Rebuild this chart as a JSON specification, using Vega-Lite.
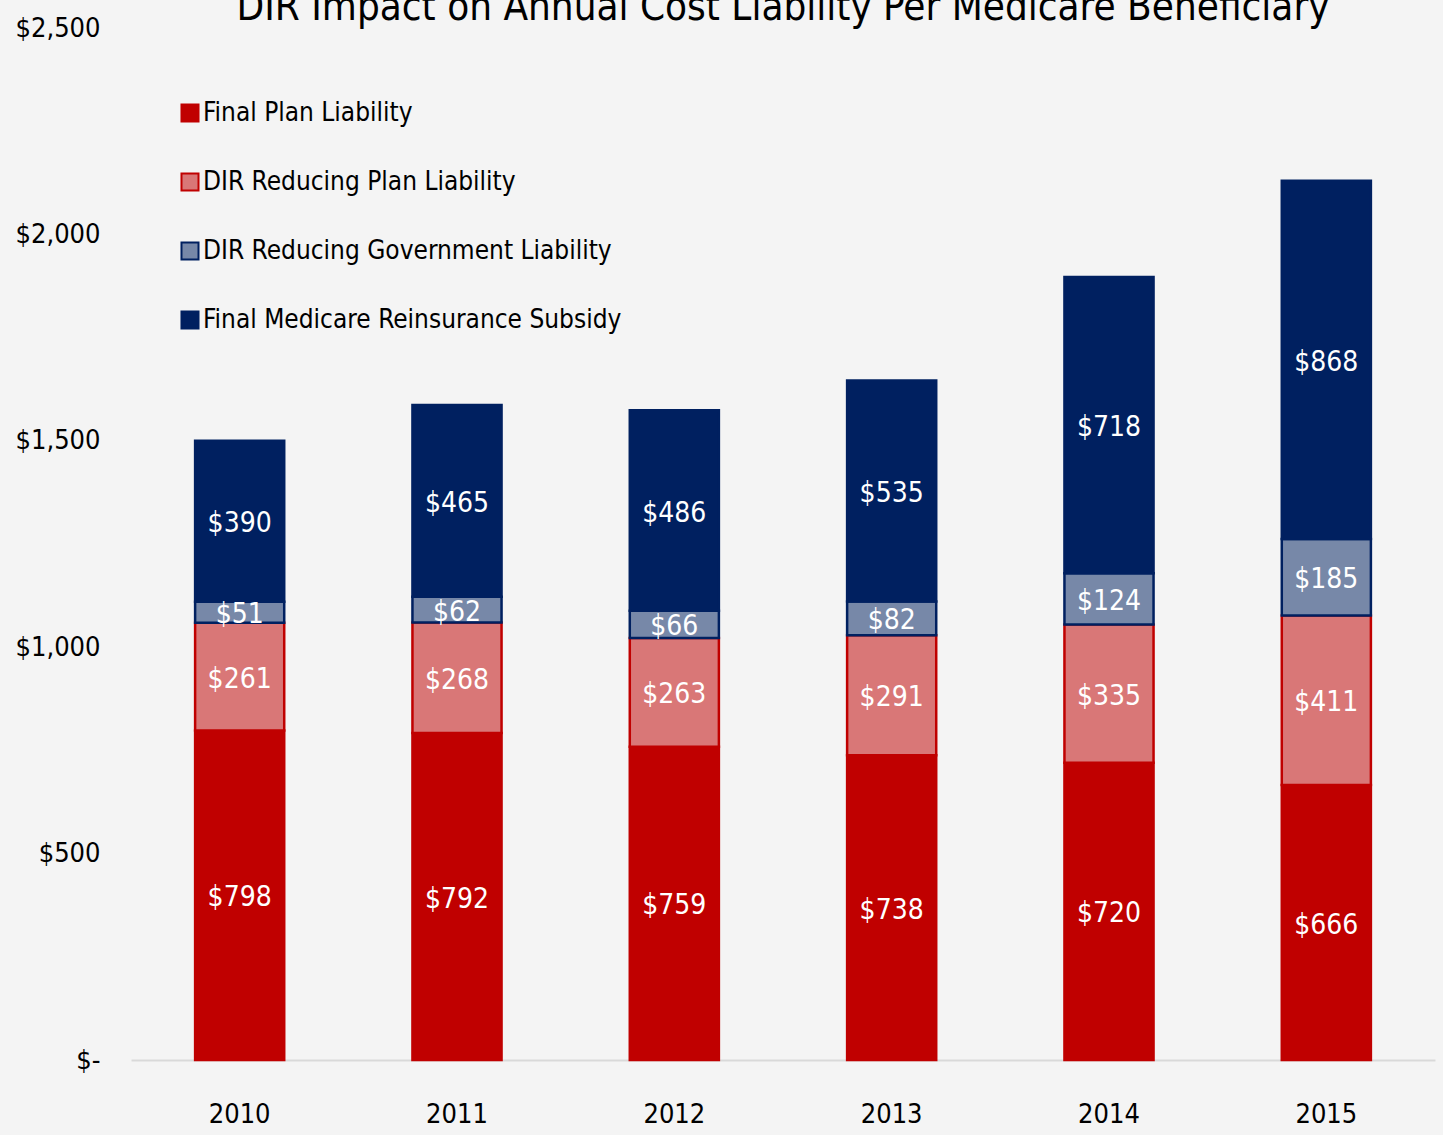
{
  "$schema": "https://vega.github.io/schema/vega-lite/v6.json",
  "autosize": {"type": "none"},
  "padding": {"left": 131, "top": 28, "right": 8, "bottom": 75},
  "width": 1304,
  "height": 1032,
  "background": "#f4f4f4",
  "title": {
    "text": "DIR Impact on Annual Cost Liability Per Medicare Beneficiary",
    "fontSize": 40,
    "font": "DejaVu Sans Condensed, sans-serif",
    "fontWeight": "normal",
    "color": "#000000",
    "anchor": "middle",
    "frame": "group",
    "baseline": "alphabetic",
    "offset": 0,
    "dy": 46
  },
  "config": {
    "view": {"stroke": null},
    "font": "DejaVu Sans Condensed, sans-serif"
  },
  "data": {
    "values": [
      {"year": "2010", "series": "Final Plan Liability", "rank": 1, "value": 798},
      {"year": "2010", "series": "DIR Reducing Plan Liability", "rank": 2, "value": 261},
      {"year": "2010", "series": "DIR Reducing Government Liability", "rank": 3, "value": 51},
      {"year": "2010", "series": "Final Medicare Reinsurance Subsidy", "rank": 4, "value": 390},
      {"year": "2011", "series": "Final Plan Liability", "rank": 1, "value": 792},
      {"year": "2011", "series": "DIR Reducing Plan Liability", "rank": 2, "value": 268},
      {"year": "2011", "series": "DIR Reducing Government Liability", "rank": 3, "value": 62},
      {"year": "2011", "series": "Final Medicare Reinsurance Subsidy", "rank": 4, "value": 465},
      {"year": "2012", "series": "Final Plan Liability", "rank": 1, "value": 759},
      {"year": "2012", "series": "DIR Reducing Plan Liability", "rank": 2, "value": 263},
      {"year": "2012", "series": "DIR Reducing Government Liability", "rank": 3, "value": 66},
      {"year": "2012", "series": "Final Medicare Reinsurance Subsidy", "rank": 4, "value": 486},
      {"year": "2013", "series": "Final Plan Liability", "rank": 1, "value": 738},
      {"year": "2013", "series": "DIR Reducing Plan Liability", "rank": 2, "value": 291},
      {"year": "2013", "series": "DIR Reducing Government Liability", "rank": 3, "value": 82},
      {"year": "2013", "series": "Final Medicare Reinsurance Subsidy", "rank": 4, "value": 535},
      {"year": "2014", "series": "Final Plan Liability", "rank": 1, "value": 720},
      {"year": "2014", "series": "DIR Reducing Plan Liability", "rank": 2, "value": 335},
      {"year": "2014", "series": "DIR Reducing Government Liability", "rank": 3, "value": 124},
      {"year": "2014", "series": "Final Medicare Reinsurance Subsidy", "rank": 4, "value": 718},
      {"year": "2015", "series": "Final Plan Liability", "rank": 1, "value": 666},
      {"year": "2015", "series": "DIR Reducing Plan Liability", "rank": 2, "value": 411},
      {"year": "2015", "series": "DIR Reducing Government Liability", "rank": 3, "value": 185},
      {"year": "2015", "series": "Final Medicare Reinsurance Subsidy", "rank": 4, "value": 868}
    ]
  },
  "encoding": {
    "x": {
      "field": "year",
      "type": "nominal",
      "scale": {"paddingInner": 0.59, "paddingOuter": 0.295},
      "axis": {
        "title": null,
        "labelAngle": 0,
        "labelFontSize": 27,
        "labelColor": "#000000",
        "labelPadding": 41,
        "labelBaseline": "top",
        "ticks": false,
        "domainColor": "#d9d9d9",
        "domainWidth": 2
      }
    },
    "y": {
      "field": "value",
      "type": "quantitative",
      "stack": "zero",
      "scale": {"domain": [0, 2500], "nice": false},
      "axis": {
        "title": null,
        "values": [0, 500, 1000, 1500, 2000, 2500],
        "labelExpr": "datum.value == 0 ? '$-' : '$' + format(datum.value, ',')",
        "labelFontSize": 27,
        "labelColor": "#000000",
        "labelPadding": 31,
        "ticks": false,
        "domain": false,
        "grid": false
      }
    },
    "order": {"field": "rank", "type": "quantitative", "sort": "ascending"}
  },
  "layer": [
    {
      "mark": {"type": "bar", "strokeWidth": 2.5},
      "encoding": {
        "color": {
          "field": "series",
          "type": "nominal",
          "sort": ["Final Plan Liability", "DIR Reducing Plan Liability", "DIR Reducing Government Liability", "Final Medicare Reinsurance Subsidy"],
          "scale": {
            "domain": ["Final Plan Liability", "DIR Reducing Plan Liability", "DIR Reducing Government Liability", "Final Medicare Reinsurance Subsidy"],
            "range": ["#c00000", "#d97777", "#7788a8", "#002060"]
          },
          "legend": {
            "title": null,
            "orient": "none",
            "legendX": 46,
            "legendY": 72,
            "padding": 0,
            "symbolType": "square",
            "symbolSize": 290,
            "symbolStrokeWidth": 2,
            "symbolOpacity": 1,
            "labelFontSize": 26,
            "labelColor": "#000000",
            "labelOffset": 0,
            "labelLimit": 1000,
            "rowPadding": 43
          }
        },
        "stroke": {
          "field": "series",
          "type": "nominal",
          "scale": {
            "domain": ["Final Plan Liability", "DIR Reducing Plan Liability", "DIR Reducing Government Liability", "Final Medicare Reinsurance Subsidy"],
            "range": ["#c00000", "#c00000", "#002060", "#002060"]
          },
          "legend": {
            "title": null,
            "orient": "none",
            "legendX": 46,
            "legendY": 72,
            "padding": 0,
            "symbolType": "square",
            "symbolSize": 290,
            "symbolStrokeWidth": 2,
            "labelFontSize": 26,
            "labelColor": "#000000",
            "labelOffset": 0,
            "labelLimit": 1000,
            "rowPadding": 43
          }
        }
      }
    },
    {
      "mark": {"type": "text", "color": "#ffffff", "fontSize": 28, "baseline": "middle", "align": "center", "dy": 3},
      "encoding": {
        "y": {"field": "value", "type": "quantitative", "stack": "zero", "bandPosition": 0.5},
        "detail": {"field": "series"},
        "text": {"field": "value", "type": "quantitative", "format": "$,.0f"}
      }
    }
  ]
}
